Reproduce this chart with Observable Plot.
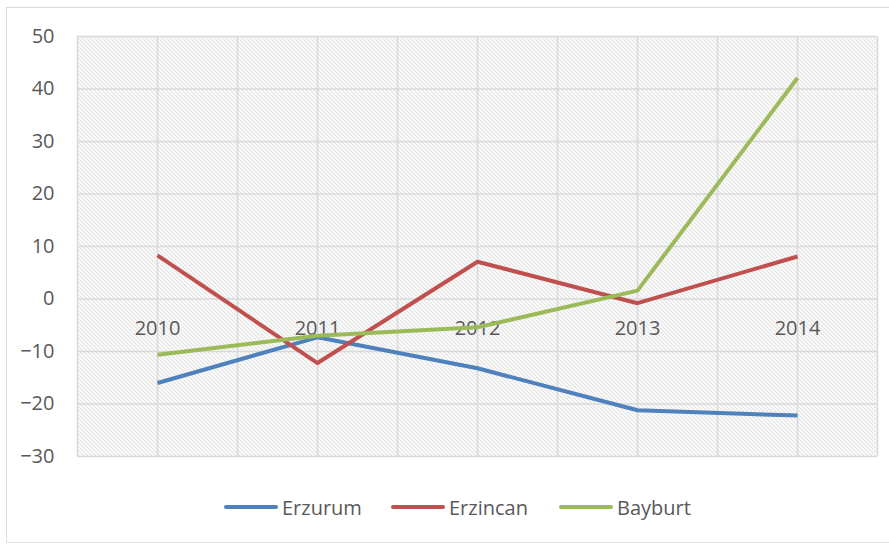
<!DOCTYPE html>
<html>
<head>
<meta charset="utf-8">
<script src="https://cdn.jsdelivr.net/npm/d3@7"></script>
<script src="https://cdn.jsdelivr.net/npm/@observablehq/plot@0.6"></script>
<style>
  html, body { margin: 0; padding: 0; background: #fff; }
  #wrap { position: relative; width: 889px; height: 545px; overflow: hidden; font-family: "Open Sans", "Liberation Sans", sans-serif; }
  #frame { position: absolute; left: 6px; top: 7px; width: 900px; height: 536px; border-left: 1.5px solid #d9d9d9; border-top: 1.5px solid #d9d9d9; border-bottom: 1.5px solid #e6e6e6; box-sizing: border-box; }
  #chart { position: absolute; left: 0; top: 0; }
  #legend { position: absolute; left: 0; top: 493px; width: 889px; height: 28px; }
  .item { position: absolute; top: 0; display: flex; align-items: center; height: 28px; font-size: 20px; color: #595959; }
  .swatch { display: inline-block; width: 54px; height: 4.5px; border-radius: 2px; margin-right: 4px; }
</style>
</head>
<body>
<div id="wrap">
  <div id="frame"></div>
  <div id="chart"></div>
  <div id="legend"></div>
</div>
<script>
const years = [2010, 2011, 2012, 2013, 2014];
const seriesNames = ["Erzurum", "Erzincan", "Bayburt"];
const erzurum = [-16.0, -7.3, -13.2, -21.2, -22.2];
const erzincan = [8.3, -12.2, 7.1, -0.8, 8.1];
const bayburt = [-10.6, -7.0, -5.4, 1.6, 42.1];
const colors = ["#4f81bd", "#c0504d", "#9bbb59"];
const yTicks = [-30, -20, -10, 0, 10, 20, 30, 40, 50];

const values = [erzurum, erzincan, bayburt];
const rows = [];
seriesNames.forEach((name, si) => {
  years.forEach((yr, i) => rows.push({series: name, year: yr, value: values[si][i]}));
});

const xGrid = d3.range(years[0] - 0.5, years[years.length - 1] + 0.51, 0.5);

const hatch = () => {
  const ns = "http://www.w3.org/2000/svg";
  const defs = document.createElementNS(ns, "defs");
  defs.innerHTML = `<pattern id="hatch" patternUnits="userSpaceOnUse" width="4" height="4">
      <rect width="4" height="4" fill="#ffffff"></rect>
      <path d="M-1,-1 L5,5 M-1,3 L1,5 M3,-1 L5,1" stroke="#cccccc" stroke-width="1"></path>
    </pattern>`;
  return defs;
};

const plot = Plot.plot({
  width: 889,
  height: 480,
  marginTop: 36,
  marginBottom: 24,
  marginLeft: 77,
  marginRight: 12,
  style: { fontFamily: "'Open Sans', 'Liberation Sans', sans-serif", fontSize: "20px", color: "#595959", background: "transparent" },
  x: { domain: [years[0] - 0.5, years[years.length - 1] + 0.5], axis: null },
  y: { domain: [-30, 50], ticks: yTicks, tickFormat: d => String(d) },
  color: { domain: seriesNames, range: colors },
  marks: [
    hatch,
    Plot.frame({ fill: "url(#hatch)", stroke: null }),
    Plot.ruleX(xGrid, { stroke: "#d9d9d9", strokeWidth: 1.5, strokeOpacity: 1 }),
    Plot.ruleY(yTicks, { stroke: "#d9d9d9", strokeWidth: 1.5, strokeOpacity: 1 }),
    Plot.axisY({ ticks: yTicks, tickSize: 0, tickPadding: 23, fill: "#595959", fontSize: 20, label: null }),
    Plot.text(years, { x: d => d, y: () => 0, text: d => String(d), dy: 30, fill: "#595959", fontSize: 20 }),
    Plot.line(rows, { x: "year", y: "value", z: "series", stroke: "series", strokeWidth: 4, strokeLinejoin: "round", strokeLinecap: "butt" })
  ]
});
document.getElementById("chart").appendChild(plot);

const legendX = [224, 391, 559];
const legend = document.getElementById("legend");
seriesNames.forEach((name, i) => {
  const it = document.createElement("div");
  it.className = "item";
  it.style.left = legendX[i] + "px";
  it.innerHTML = `<span class="swatch" style="background:${colors[i]}"></span><span>${name}</span>`;
  legend.appendChild(it);
});
</script>
</body>
</html>
